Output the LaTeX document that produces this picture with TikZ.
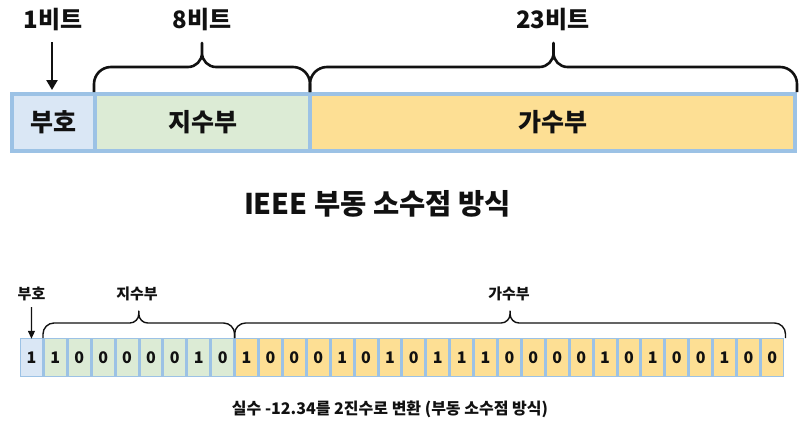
\documentclass[tikz,border=0pt]{standalone}
\usepackage{fontspec}
\setmainfont{Noto Sans CJK KR}
\usetikzlibrary{arrows.meta}
\definecolor{bd}{HTML}{9CC2E5}
\definecolor{sgn}{HTML}{DAE7F5}
\definecolor{expo}{HTML}{DCEBD5}
\definecolor{man}{HTML}{FDDF94}
\definecolor{ink}{HTML}{111111}
% #1 x1, #2 x2, #3 y end, #4 y line, #5 y tip, #6 corner radius, #7 tip radius, #8 style
\newcommand\kbrace[8]{%
  \draw[#8] (#1,#3) -- (#1,{#4+#6})
    .. controls (#1,{#4+0.4477*#6}) and ({#1+0.4477*#6},#4) .. ({#1+#6},#4)
    -- ({(#1+#2)/2-#7},#4)
    .. controls ({(#1+#2)/2-0.4477*#7},#4) and ({(#1+#2)/2},{#4-0.4477*#7}) .. ({(#1+#2)/2},{#4-#7})
    -- ({(#1+#2)/2},#5) -- ({(#1+#2)/2},{#4-#7})
    .. controls ({(#1+#2)/2},{#4-0.4477*#7}) and ({(#1+#2)/2+0.4477*#7},#4) .. ({(#1+#2)/2+#7},#4)
    -- ({#2-#6},#4)
    .. controls ({#2-0.4477*#6},#4) and (#2,{#4+0.4477*#6}) .. (#2,{#4+#6})
    -- (#2,#3);}
\begin{document}
\begin{tikzpicture}[x=1pt,y=-1pt,
  bigbox/.style={draw=bd,line width=4pt,rectangle,minimum height=57pt,inner sep=0pt,
     font=\fontsize{25}{28}\selectfont\bfseries,text=ink},
  toplbl/.style={font=\fontsize{24}{27}\selectfont\bfseries,text=ink,inner sep=0pt},
  botlbl/.style={font=\fontsize{15}{18}\selectfont\bfseries,text=ink,inner sep=0pt},
  cell/.style={draw=bd,line width=1.5pt,rectangle,minimum width=22.4pt,minimum height=38pt,
     inner sep=0pt,font=\fontsize{16}{18}\selectfont\bfseries,text=ink},
  bigbrace/.style={line width=2.6pt,ink,line join=round},
  smallbrace/.style={line width=1.4pt,ink,line join=round}]
\useasboundingbox (0,0) rectangle (810,424);
% top bar
\node[bigbox,fill=sgn,minimum width=83pt] (sign) at (53.5,122.5) {부호};
\node[bigbox,fill=expo,minimum width=215pt] (exp) at (202.5,122.5) {지수부};
\node[bigbox,fill=man,minimum width=485pt] (mant) at (552.5,122.5) {가수부};
% top labels
\node[toplbl] (l1) at (53,20) {1비트};
\node[toplbl] (l8) at (202,20) {8비트};
\node[toplbl] (l23) at (553,20) {23비트};
\draw[line width=2.5pt,ink,-{Triangle[length=10pt,width=11pt]}] (52,42) -- (52,90);
\kbrace{94}{310}{92}{67}{43}{17}{14}{bigbrace}
\kbrace{310}{797}{92}{67}{43}{17}{14}{bigbrace}
% title
\node[font=\fontsize{28.5}{32}\selectfont\bfseries,text=ink] (title) at (377.5,204) {IEEE 부동 소수점 방식};
% bottom cells
\node[cell,fill=sgn] (c0) at ({19.5+23.9*0.5},357.5) {1};
\foreach \b [count=\i from 1] in {1,0,0,0,0,0,1,0}
  \node[cell,fill=expo] (c\i) at ({19.5+23.9*(\i+0.5)},357.5) {\b};
\foreach \b [count=\i from 9] in {1,0,0,0,1,0,1,0,1,1,1,0,0,0,0,1,0,1,0,0,1,0,0}
  \node[cell,fill=man] (c\i) at ({19.5+23.9*(\i+0.5)},357.5) {\b};
% bottom labels
\node[botlbl] (b1) at (31.5,294) {부호};
\node[botlbl] (b2) at (137,294) {지수부};
\node[botlbl] (b3) at (509,294) {가수부};
\draw[line width=1.3pt,ink,-{Triangle[length=8pt,width=7pt]}] (31.5,307) -- ([yshift=-1pt]c0.north);
\kbrace{43}{234.6}{338}{323}{311}{11}{9}{smallbrace}
\kbrace{234.6}{785.5}{338}{323}{311}{11}{9}{smallbrace}
% caption
\node[font=\fontsize{16}{19}\selectfont\bfseries,text=ink] (cap) at (390,409) {실수 -12.34를 2진수로 변환 (부동 소수점 방식)};
\end{tikzpicture}
\end{document}
